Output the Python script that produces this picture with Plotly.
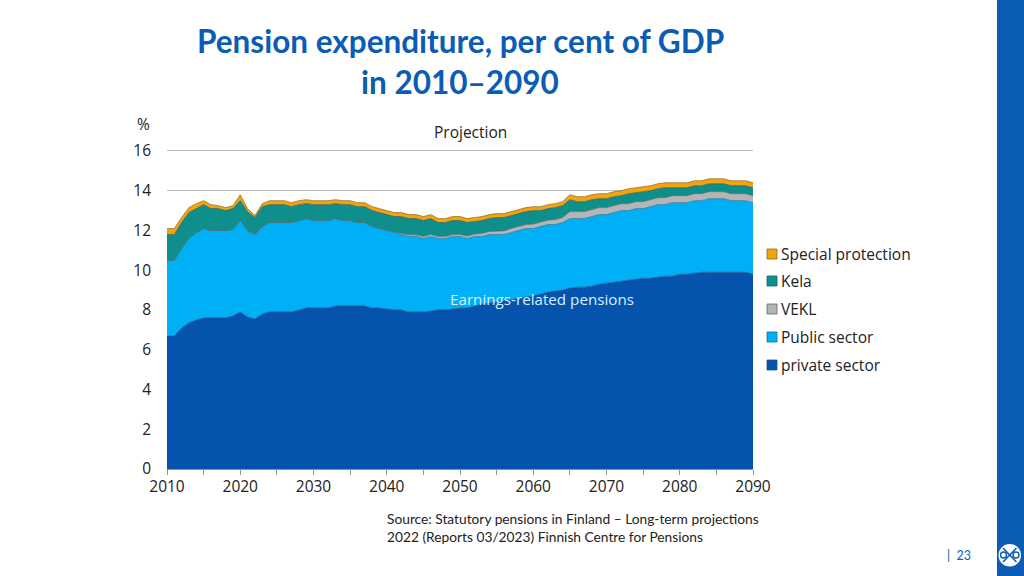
import plotly.graph_objects as go

years = list(range(2010, 2091))

# Cumulative upper edge of each band
private_top = [6.7,6.7,7.1,7.35,7.5,7.6,7.6,7.6,7.6,7.7,7.9,7.65,7.55,7.8,7.9,7.9,7.9,7.9,8.0,8.1,
 8.1,8.1,8.1,8.2,8.2,8.2,8.2,8.2,8.1,8.1,8.05,8.0,8.0,7.9,7.9,7.9,7.95,8.0,8.0,8.05,
 8.1,8.1,8.2,8.3,8.35,8.4,8.45,8.5,8.6,8.65,8.7,8.8,8.9,8.95,9.0,9.1,9.15,9.15,9.2,9.3,
 9.35,9.4,9.45,9.5,9.55,9.6,9.6,9.65,9.7,9.7,9.8,9.8,9.85,9.9,9.9,9.9,9.9,9.9,9.9,9.9,9.8]
public_top = [10.5,10.5,11.1,11.6,11.9,12.1,12.0,12.0,12.0,12.05,12.5,12.0,11.8,12.2,12.4,12.4,12.4,12.4,12.5,12.6,
 12.5,12.5,12.5,12.6,12.5,12.5,12.4,12.4,12.2,12.1,12.0,11.9,11.8,11.7,11.7,11.6,11.7,11.6,11.6,11.7,
 11.7,11.6,11.7,11.7,11.8,11.8,11.8,11.9,12.0,12.1,12.1,12.2,12.3,12.3,12.4,12.6,12.6,12.6,12.7,12.8,
 12.8,12.9,13.0,13.0,13.1,13.1,13.2,13.3,13.3,13.4,13.4,13.4,13.5,13.5,13.6,13.6,13.6,13.5,13.5,13.5,13.4]
vekl_top = [10.5,10.5,11.1,11.6,11.9,12.1,12.0,12.0,12.0,12.05,12.5,12.0,11.8,12.2,12.4,12.4,12.4,12.4,12.5,12.6,
 12.5,12.5,12.5,12.6,12.5,12.5,12.4,12.4,12.2,12.1,12.0,11.92,11.85,11.78,11.78,11.7,11.8,11.7,11.7,11.8,
 11.8,11.72,11.82,11.85,11.95,11.98,11.98,12.1,12.2,12.3,12.32,12.42,12.52,12.55,12.65,12.95,12.95,12.95,13.05,13.15,
 13.15,13.25,13.35,13.35,13.45,13.45,13.55,13.65,13.65,13.75,13.75,13.75,13.85,13.85,13.95,13.95,13.95,13.85,13.85,13.85,13.75]
kela_top = [11.8,11.8,12.4,12.9,13.1,13.3,13.1,13.1,13.0,13.1,13.5,12.95,12.65,13.2,13.3,13.3,13.3,13.2,13.3,13.35,
 13.3,13.3,13.3,13.35,13.3,13.3,13.2,13.2,13.0,12.9,12.8,12.7,12.7,12.6,12.6,12.5,12.6,12.4,12.4,12.5,
 12.5,12.4,12.45,12.5,12.6,12.65,12.65,12.75,12.85,12.95,13.0,13.0,13.1,13.15,13.25,13.55,13.45,13.45,13.55,13.6,
 13.6,13.7,13.75,13.85,13.9,13.95,14.0,14.1,14.15,14.15,14.15,14.15,14.25,14.25,14.35,14.35,14.35,14.25,14.25,14.25,14.15]
special_top = [12.1,12.1,12.65,13.15,13.35,13.5,13.3,13.25,13.15,13.25,13.8,13.1,12.75,13.35,13.5,13.5,13.5,13.4,13.5,13.55,
 13.5,13.5,13.5,13.55,13.5,13.5,13.4,13.4,13.2,13.1,13.0,12.9,12.9,12.8,12.8,12.7,12.8,12.6,12.6,12.7,
 12.7,12.6,12.65,12.7,12.8,12.85,12.85,12.95,13.05,13.15,13.2,13.2,13.3,13.35,13.45,13.8,13.7,13.7,13.8,13.85,
 13.85,13.95,14.0,14.1,14.15,14.2,14.25,14.35,14.4,14.4,14.4,14.4,14.5,14.5,14.6,14.6,14.6,14.5,14.5,14.5,14.4]

series_names = ["private sector", "Public sector", "VEKL", "Kela", "Special protection"]
series_tops = [private_top, public_top, vekl_top, kela_top, special_top]
series_fill = ["#0653AE", "#00B0F6", "#B5B5B5", "#0E8F8B", "#F4A30F"]
series_line = ["#1F4E8C", "#1C6E96", "#5A6A70", "#1D5F5E", "#8A6A1E"]

x_ticks = list(range(2010, 2091, 5))
x_labels = [str(y) if y % 10 == 0 else "" for y in x_ticks]
y_ticks = list(range(0, 17, 2))

W, H = 1024, 576
CHART = "Open Sans"
SLIDE = "Lato"
BLUE = "#0B5CB5"
px = lambda v: v / W
py = lambda v: 1 - v / H

fig = go.Figure()
for i, (name, top, fill, line) in enumerate(zip(series_names, series_tops, series_fill, series_line)):
    fig.add_trace(go.Scatter(
        x=years, y=top, name=name, mode="lines",
        line=dict(color=line, width=0.7),
        fill="tozeroy" if i == 0 else "tonexty",
        fillcolor=fill, showlegend=False,
    ))

shapes = [
    dict(type="rect", xref="paper", yref="paper", x0=px(997), x1=1, y0=0, y1=1,
         fillcolor=BLUE, line_width=0, layer="below"),
    dict(type="circle", xref="paper", yref="paper", x0=px(998.5), x1=px(1021), y0=py(566.5), y1=py(544),
         fillcolor="white", line_width=0),
    dict(type="line", xref="paper", yref="paper", x0=px(1003), x1=px(1016.5), y0=py(548), y1=py(562),
         line=dict(color=BLUE, width=1.6)),
    dict(type="line", xref="paper", yref="paper", x0=px(1003), x1=px(1016.5), y0=py(562), y1=py(548),
         line=dict(color=BLUE, width=1.6)),
    dict(type="circle", xref="paper", yref="paper", x0=px(1000.5), x1=px(1006.5), y0=py(558), y1=py(552),
         fillcolor="white", line=dict(color=BLUE, width=1.4)),
    dict(type="circle", xref="paper", yref="paper", x0=px(1013), x1=px(1019), y0=py(558), y1=py(552),
         fillcolor="white", line=dict(color=BLUE, width=1.4)),
]

annotations = [
    dict(text="Pension expenditure, per cent of GDP", x=px(460), y=py(41), font=dict(family=SLIDE, size=31.5, color=BLUE, weight="bold")),
    dict(text="in 2010–2090", x=px(460), y=py(82), font=dict(family=SLIDE, size=31.5, color=BLUE, weight="bold")),
    dict(text="%", x=px(143), y=py(124), font=dict(family=CHART, size=15.5, color="#222222")),
    dict(text="Projection", x=px(470.5), y=py(132), font=dict(family=CHART, size=15.5, color="#222222")),
    dict(text="Earnings-related pensions", x=px(541.5), y=py(299), font=dict(family=CHART, size=15.2, color="#D5F1FF")),
    dict(text="Source: Statutory pensions in Finland – Long-term projections", x=px(385), y=py(518), xanchor="left",
         font=dict(family=SLIDE, size=13.75, color="#222222")),
    dict(text="2022 (Reports 03/2023) Finnish Centre for Pensions", x=px(385), y=py(536), xanchor="left",
         font=dict(family=SLIDE, size=13.75, color="#222222")),
    dict(text="|  23", x=px(973), y=py(555), xanchor="right", font=dict(family=SLIDE, size=12.5, color=BLUE)),
]

legend_rows = list(zip(reversed(series_names), reversed(series_fill), reversed(series_line), [254, 281, 309, 337, 365]))
for name, fill, line, yc in legend_rows:
    shapes.append(dict(type="rect", xref="paper", yref="paper", x0=px(767), x1=px(777), y0=py(yc + 5), y1=py(yc - 5),
                       fillcolor=fill, line=dict(color=line, width=0.8)))
    annotations.append(dict(text=name, x=px(779), y=py(yc), xanchor="left",
                            font=dict(family=CHART, size=15.5, color="#222222")))
for a in annotations:
    a.update(xref="paper", yref="paper", showarrow=False)
    a.setdefault("xanchor", "center")
    a.setdefault("yanchor", "middle")

fig.update_layout(
    width=W, height=H, autosize=False,
    margin=dict(l=0, r=0, t=0, b=0, pad=0),
    paper_bgcolor="white", plot_bgcolor="white",
    showlegend=False, shapes=shapes, annotations=annotations,
    xaxis=dict(domain=[px(167), px(753)], range=[2010, 2090], tickvals=x_ticks, ticktext=x_labels,
               automargin=False, ticks="outside", ticklen=5, tickwidth=1, tickcolor="#8A94A0",
               ticklabelstandoff=-2,
               showline=True, linecolor="#8A94A0", linewidth=1, showgrid=False, zeroline=False,
               tickangle=0, tickfont=dict(family=CHART, size=15.5, color="#222222")),
    yaxis=dict(domain=[py(469), py(147)], range=[0, 16.2], tickvals=y_ticks, ticks="",
               automargin=False, ticklabelstandoff=15,
               showline=False, showgrid=True, gridcolor="#BDBDBD", gridwidth=1.3, zeroline=False,
               tickfont=dict(family=CHART, size=15.5, color="#222222")),
)

fig.write_html("out.html", config=dict(displayModeBar=False),
               post_script="document.body.style.margin='0';document.documentElement.style.overflow='hidden';")
